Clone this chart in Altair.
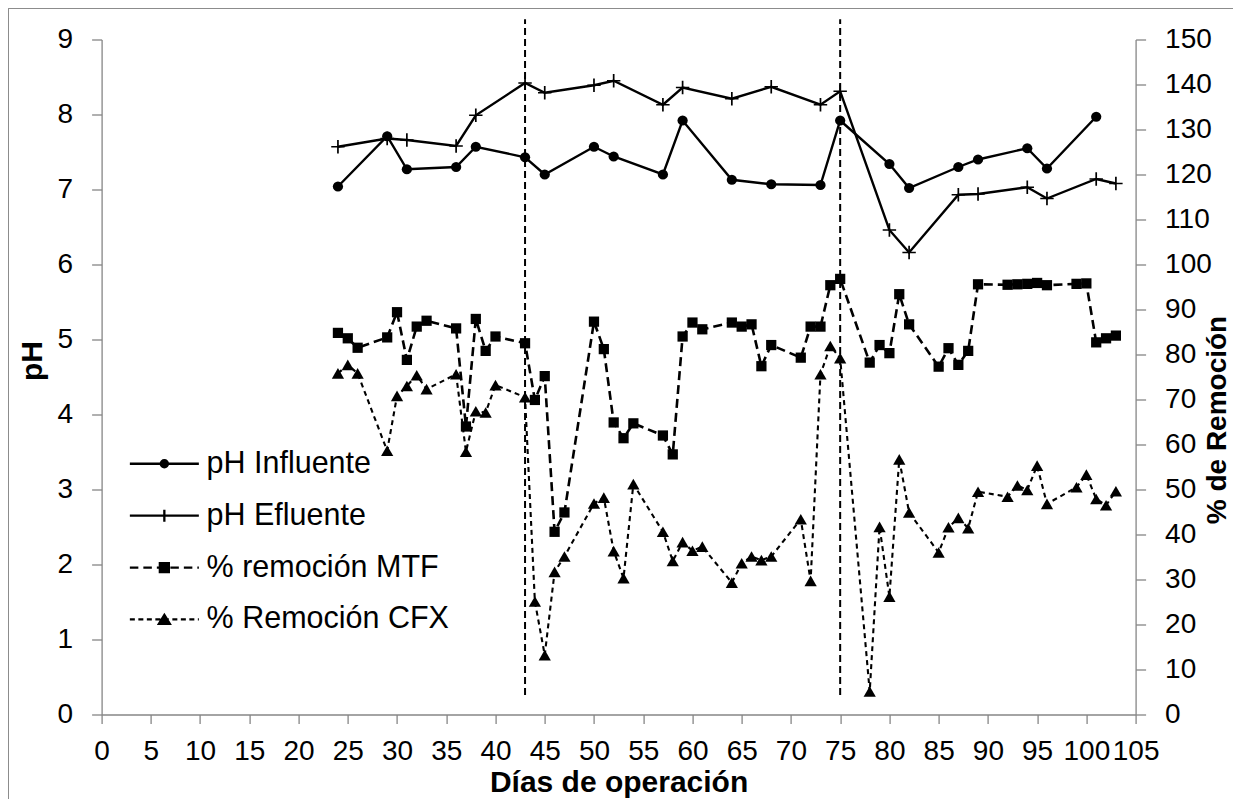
import altair as alt
import pandas as pd

# ---------------- data ----------------
dias_ph_inf = [24, 29, 31, 36, 38, 43, 45, 50, 52, 57, 59, 64, 68, 73, 75, 80, 82, 87, 89, 94, 96, 101]
ph_influente = [7.04, 7.71, 7.27, 7.30, 7.57, 7.43, 7.20, 7.57, 7.44, 7.20, 7.92, 7.13, 7.07, 7.06,
                7.92, 7.34, 7.02, 7.30, 7.40, 7.55, 7.28, 7.97]

dias_ph_ef = [24, 29, 31, 36, 38, 43, 45, 50, 52, 57, 59, 64, 68, 73, 75, 80, 82, 87, 89, 94, 96, 101, 103]
ph_efluente = [7.57, 7.68, 7.66, 7.58, 7.99, 8.42, 8.29, 8.39, 8.45, 8.13, 8.36, 8.21, 8.37, 8.13,
               8.31, 6.46, 6.16, 6.93, 6.94, 7.03, 6.88, 7.14, 7.08]

dias_rem = [24, 25, 26, 29, 30, 31, 32, 33, 36, 37, 38, 39, 40, 43, 44, 45, 46, 47, 50, 51, 52, 53, 54,
            57, 58, 59, 60, 61, 64, 65, 66, 67, 68, 71, 72, 73, 74, 75, 78, 79, 80, 81, 82, 85, 86, 87,
            88, 89, 92, 93, 94, 95, 96, 99, 100, 101, 102, 103]
rem_mtf = [84.8, 83.6, 81.5, 83.8, 89.4, 78.8, 86.2, 87.5, 85.8, 64.0, 87.9, 80.8, 84.0, 82.5, 69.9,
           75.2, 40.6, 44.9, 87.3, 81.2, 64.9, 61.4, 64.7, 62.0, 57.8, 84.0, 87.1, 85.6, 87.1, 86.2,
           86.7, 77.4, 82.1, 79.3, 86.2, 86.2, 95.4, 96.8, 78.2, 82.1, 80.3, 93.4, 86.7, 77.3, 81.4,
           77.7, 80.8, 95.6, 95.5, 95.6, 95.7, 95.9, 95.4, 95.7, 95.8, 82.7, 83.6, 84.2]
rem_cfx = [75.8, 77.7, 75.8, 58.6, 70.8, 73.0, 75.4, 72.3, 75.6, 58.4, 67.4, 67.1, 73.2, 70.5, 25.1,
           13.2, 31.7, 35.1, 46.9, 48.2, 36.3, 30.3, 51.2, 40.6, 34.1, 38.3, 36.4, 37.3, 29.3, 33.6,
           35.1, 34.3, 35.1, 43.4, 29.7, 75.6, 81.9, 79.2, 5.1, 41.7, 26.2, 56.7, 44.9, 36.0, 41.6,
           43.7, 41.4, 49.5, 48.4, 50.9, 49.9, 55.3, 46.8, 50.5, 53.3, 47.9, 46.5, 49.6]

# vertical dashed reference lines (days) and their extent on the pH scale
dias_lineas = [43, 75]
linea_inferior = 0.26
linea_superior = 9.27

series = ["pH Influente", "pH Efluente", "% remoción MTF", "% Remoción CFX"]
ticks_x = list(range(0, 106, 5))
ticks_ph = list(range(0, 10))
ticks_rem = list(range(0, 151, 10))

# ---------------- tables ----------------
df_inf = pd.DataFrame({"dia": dias_ph_inf, "valor": ph_influente, "serie": series[0]})
df_ef = pd.DataFrame({"dia": dias_ph_ef, "valor": ph_efluente, "serie": series[1]})
df_mtf = pd.DataFrame({"dia": dias_rem, "valor": rem_mtf, "serie": series[2]})
df_cfx = pd.DataFrame({"dia": dias_rem, "valor": rem_cfx, "serie": series[3]})
df_ph = pd.concat([df_inf, df_ef], ignore_index=True)
df_lineas = pd.DataFrame({"dia": dias_lineas,
                          "valor": [linea_inferior] * len(dias_lineas),
                          "valor2": [linea_superior] * len(dias_lineas)})

# ---------------- styling ----------------
FONT = "Liberation Sans"
AXIS_GREY = "#868686"
W, H = 1034, 675


def dashed(L, d, g):
    s, x = "", -L
    while x < L:
        e = min(x + d, L)
        s += f"M{x:.3f},0L{e:.3f},0"
        x = e + g
    return s


U = 12.0  # legend symbol radius in px (symbolSize = (2*U)^2)
Lh = 34.5 / U
c = 3.6 / U
p = 6.0 / U
q = 4.5 / U
th, tw = 4.5 / U, 5.5 / U
leg_paths = [
    f"M{-Lh:.3f},0L{Lh:.3f},0M{c:.3f},0A{c:.3f},{c:.3f} 0 1,1 {-c:.3f},0A{c:.3f},{c:.3f} 0 1,1 {c:.3f},0Z",
    f"M{-Lh:.3f},0L{Lh:.3f},0M0,{-p:.3f}L0,{p:.3f}",
    dashed(Lh, 8.5 / U, 5.0 / U) + f"M{-q:.3f},{-q:.3f}L{q:.3f},{-q:.3f}L{q:.3f},{q:.3f}L{-q:.3f},{q:.3f}Z",
    dashed(Lh, 5.0 / U, 3.5 / U) + f"M0,{-th:.3f}L{tw:.3f},{th:.3f}L{-tw:.3f},{th:.3f}Z",
]

X = alt.X("dia:Q",
          scale=alt.Scale(domain=[0, 105], nice=False, zero=False),
          axis=alt.Axis(values=ticks_x, title="Días de operación", tickSize=9, labelPadding=14,
                        labelOverlap=False, labelFlush=False, titleY=77.5, titleBaseline="alphabetic"))
Y_ph = alt.Y("valor:Q",
             scale=alt.Scale(domain=[0, 9], nice=False, zero=True),
             axis=alt.Axis(values=ticks_ph, title="pH", orient="left", tickSize=10, labelPadding=19,
                           titleAngle=270, titleX=-69, titleY=321, titleBaseline="middle",
                           titleAlign="center"))
Y_rem = alt.Y("valor:Q",
              scale=alt.Scale(domain=[0, 150], nice=False, zero=True),
              axis=alt.Axis(values=ticks_rem, title="% de Remoción", orient="right", tickSize=10,
                            labelPadding=19, titleAngle=270, titleX=82, titleY=380,
                            titleBaseline="middle", titleAlign="center", titleFontSize=28))

borde = alt.Chart(df_lineas).mark_rect(fillOpacity=0, stroke="#8c8c8c", strokeWidth=1, clip=False).encode(
    x=alt.value(-93.1), y=alt.value(-31), x2=alt.value(1300), y2=alt.value(1000))

lineas_v = alt.Chart(df_lineas).mark_rule(color="black", strokeWidth=2, strokeDash=[7, 4], clip=False).encode(
    x=X, y=Y_ph, y2=alt.Y2("valor2:Q"))

l_inf = alt.Chart(df_inf).mark_line(color="black", strokeWidth=2.4).encode(x=X, y=Y_ph)
p_inf = alt.Chart(df_inf).mark_point(shape="circle", filled=True, size=105, color="black", opacity=1).encode(x=X, y=Y_ph)
l_ef = alt.Chart(df_ef).mark_line(color="black", strokeWidth=2.4).encode(x=X, y=Y_ph)
p_ef = alt.Chart(df_ef).mark_point(shape="M-1,0L1,0M0,-1L0,1", filled=False, size=180, color="black",
                                   strokeWidth=1.7, opacity=1).encode(x=X, y=Y_ph)

leyenda = alt.Chart(df_ph).mark_point(filled=True, fill="black", stroke="black", strokeWidth=2.3,
                                      opacity=0).encode(
    x=X, y=Y_ph,
    shape=alt.Shape("serie:N",
                    scale=alt.Scale(domain=series, range=leg_paths),
                    legend=alt.Legend(orient="none", legendX=47.5, legendY=409, title=None,
                                      symbolSize=(2 * U) ** 2, symbolOpacity=1,
                                      symbolStrokeWidth=2.3, labelFontSize=30.5, labelFont=FONT,
                                      labelColor="black", labelOffset=27, rowPadding=20.9,
                                      padding=0, labelLimit=0)))

l_mtf = alt.Chart(df_mtf).mark_line(color="black", strokeWidth=2.6, strokeDash=[9, 5]).encode(x=X, y=Y_rem)
p_mtf = alt.Chart(df_mtf).mark_point(shape="square", filled=True, size=105, color="black", opacity=1).encode(x=X, y=Y_rem)
l_cfx = alt.Chart(df_cfx).mark_line(color="black", strokeWidth=2.1, strokeDash=[5, 4]).encode(x=X, y=Y_rem)
p_cfx = alt.Chart(df_cfx).mark_point(shape="triangle-up", filled=True, size=150, color="black", opacity=1).encode(x=X, y=Y_rem)

grupo_ph = alt.layer(borde, lineas_v, l_inf, p_inf, l_ef, p_ef, leyenda)
grupo_rem = alt.layer(l_mtf, p_mtf, l_cfx, p_cfx)

chart = alt.layer(grupo_ph, grupo_rem).resolve_scale(y="independent").properties(
    width=W, height=H,
    padding={"left": 93.6, "top": 31.5, "right": 97, "bottom": 84},
    autosize=alt.AutoSizeParams(type="none"),
).configure_view(stroke=None).configure_axis(
    labelFont=FONT, labelFontSize=28, labelColor="black",
    titleFont=FONT, titleFontSize=30, titleFontWeight="bold", titleColor="black",
    domainColor=AXIS_GREY, tickColor=AXIS_GREY, domainWidth=1.3, tickWidth=1.3, grid=False,
)

chart.save("out.html", embed_options={"renderer": "svg", "actions": False})
